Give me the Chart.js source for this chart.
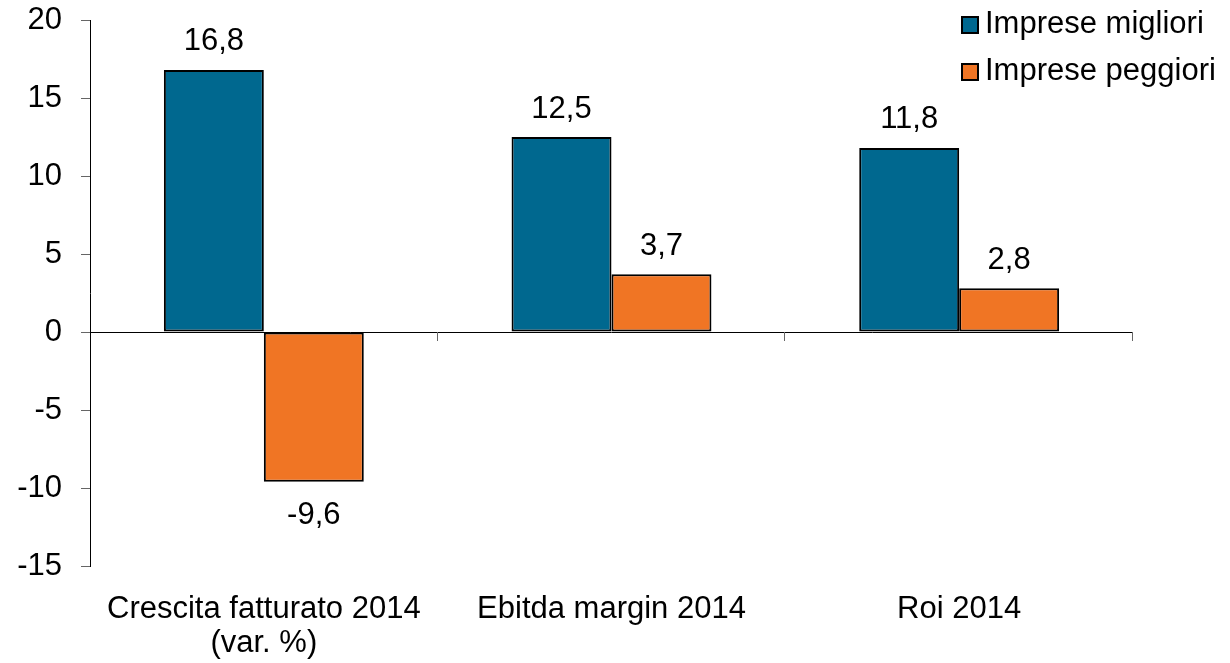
<!DOCTYPE html>
<html>
<head>
<meta charset="utf-8">
<script src="https://cdn.jsdelivr.net/npm/chart.js@4"></script>
<style>
  html, body { margin: 0; padding: 0; background: #fff; }
  #wrap { width: 1230px; height: 663px; position: relative; }
</style>
</head>
<body>
<div id="wrap"><canvas id="myChart"></canvas></div>
<script>
const categories = [
  ["Crescita fatturato 2014", "(var. %)"],
  "Ebitda margin 2014",
  "Roi 2014"
];
const migliori = [16.8, 12.5, 11.8];
const peggiori = [-9.6, 3.7, 2.8];
const yTicks = [20, 15, 10, 5, 0, -5, -10, -15];

const FONT = "'Liberation Sans', Arial, sans-serif";

function fmt(v) {
  return v.toFixed(1).replace(".", ",");
}

// zero line with the little category ticks under it
const zeroLine = {
  id: "zeroLine",
  beforeDatasetsDraw(chart) {
    const { ctx } = chart;
    const x = chart.scales.x;
    const y0 = chart.scales.y.getPixelForValue(0);
    ctx.save();
    ctx.strokeStyle = "#000";
    ctx.lineWidth = 1;
    ctx.beginPath();
    ctx.moveTo(x.left, y0 + 0.5);
    ctx.lineTo(x.right, y0 + 0.5);
    ctx.stroke();
    ctx.strokeStyle = "#666";
    const n = categories.length;
    for (let i = 1; i <= n; i++) {
      const px = Math.round(x.left + (i * x.width) / n) - 0.5;
      ctx.beginPath();
      ctx.moveTo(px, y0);
      ctx.lineTo(px, y0 + 9);
      ctx.stroke();
    }
    ctx.restore();
  }
};

// value labels above / below the bars
const barLabels = {
  id: "barLabels",
  afterDatasetsDraw(chart) {
    const { ctx } = chart;
    ctx.save();
    ctx.font = "31px " + FONT;
    ctx.fillStyle = "#000";
    ctx.textAlign = "center";
    ctx.textBaseline = "middle";
    chart.data.datasets.forEach((ds, di) => {
      chart.getDatasetMeta(di).data.forEach((bar, i) => {
        const v = ds.data[i];
        const y = v >= 0 ? bar.y - 28 : bar.y + 34;
        ctx.fillText(fmt(v), bar.x, y);
      });
    });
    ctx.restore();
  }
};

// legend in the top right corner, over the plot
const cornerLegend = {
  id: "cornerLegend",
  afterDraw(chart) {
    const { ctx } = chart;
    ctx.save();
    ctx.font = "31px " + FONT;
    ctx.textBaseline = "middle";
    ctx.textAlign = "left";
    chart.data.datasets.forEach((ds, i) => {
      const cy = 24 + i * 47;
      ctx.fillStyle = ds.backgroundColor;
      ctx.fillRect(962, cy - 7, 16, 16);
      ctx.strokeStyle = "#000";
      ctx.lineWidth = 2;
      ctx.strokeRect(962, cy - 7, 16, 16);
      ctx.fillStyle = "#000";
      ctx.fillText(ds.label, 985, cy);
    });
    ctx.restore();
  }
};

function initChart(target) {
  const data = {
    labels: categories,
    datasets: [
      {
        label: "Imprese migliori",
        backgroundColor: "#00688F",
        borderColor: "#000",
        borderWidth: 2,
        borderSkipped: false,
        data: migliori
      },
      {
        label: "Imprese peggiori",
        backgroundColor: "#F07524",
        borderColor: "#000",
        borderWidth: 2,
        borderSkipped: false,
        data: peggiori
      }
    ]
  };

  const config = {
    type: "bar",
    data: data,
    options: {
      responsive: false,
      animation: false,
      devicePixelRatio: 1,
      categoryPercentage: 0.575,
      barPercentage: 1,
      layout: { padding: { top: 20, right: 97, left: 0, bottom: 0 } },
      plugins: {
        legend: { display: false },
        tooltip: { enabled: false }
      },
      scales: {
        x: {
          grid: { display: false },
          border: { display: false },
          ticks: {
            color: "#000",
            font: { family: FONT, size: 31, lineHeight: 1.1 },
            padding: 18,
            maxRotation: 0,
            autoSkip: false
          },
          afterFit(scale) {
            scale.height = 97;
            scale.paddingLeft = 0;
            scale.paddingRight = 0;
          }
        },
        y: {
          min: -15,
          max: 20,
          afterBuildTicks(scale) {
            scale.ticks = yTicks.map((v) => ({ value: v }));
          },
          grid: {
            drawOnChartArea: false,
            drawTicks: true,
            tickLength: 9,
            color: "#666"
          },
          border: { display: true, color: "#000", width: 1 },
          ticks: {
            color: "#000",
            font: { family: FONT, size: 31 },
            padding: 19,
            callback: (v) => String(v)
          },
          afterFit(scale) {
            scale.width = 90;
            scale.paddingTop = 0;
            scale.paddingBottom = 0;
          }
        }
      }
    },
    plugins: [zeroLine, barLabels, cornerLegend]
  };

  return new Chart(target, config);
}

const canvas = document.querySelector("#myChart");
canvas.width = 1230;
canvas.height = 663;
initChart(canvas);
</script>
</body>
</html>
